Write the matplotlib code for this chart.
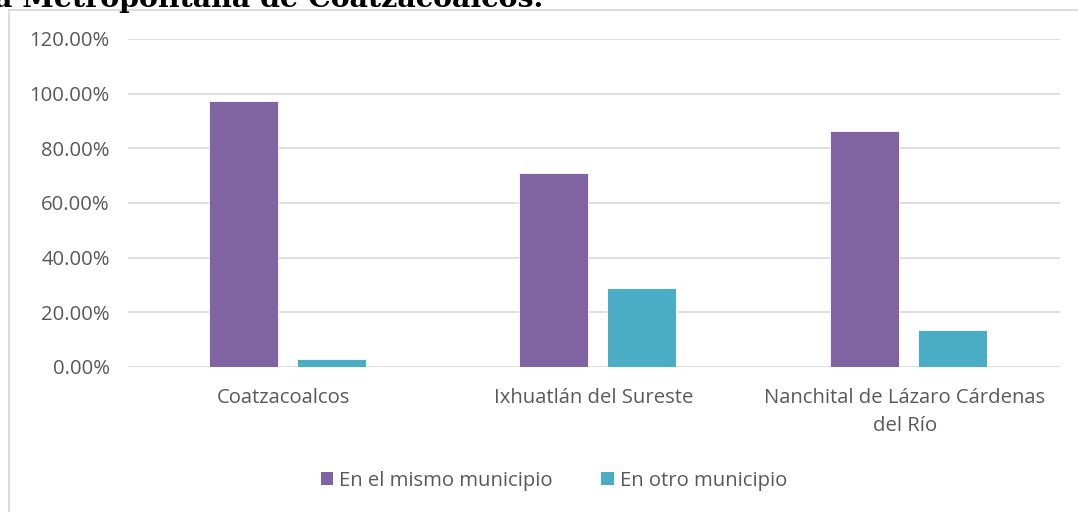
import matplotlib
matplotlib.use("Agg")
import matplotlib.pyplot as plt
import numpy as np
from matplotlib.lines import Line2D
from matplotlib.patches import Patch

categories = ["Coatzacoalcos", "Ixhuatlán del Sureste", "Nanchital de Lázaro Cárdenas\ndel Río"]
series_names = ["En el mismo municipio", "En otro municipio"]
mismo = [97.2, 71.1, 86.3]
otro = [2.8, 28.9, 13.7]
yticks = [0, 20, 40, 60, 80, 100, 120]
title_text = "a Metropolitana de Coatzacoalcos."

colors = ["#8064a2", "#4bacc6"]
txt = "#595959"
grid = "#d9d9d9"
font = "Open Sans"
fs = 14.6

W, H = 1078, 512
fig = plt.figure(figsize=(W / 100, H / 100), dpi=100)

# chart border (left and top)
fig.add_artist(Line2D([8.5 / W, 8.5 / W], [0, 1 - 10 / H], color=grid, lw=1.3))
fig.add_artist(Line2D([8.5 / W, 1], [1 - 10 / H, 1 - 10 / H], color=grid, lw=1.3))

# cut-off title
fig.text(-6 / W, 1 - 7 / H, title_text, fontsize=20.5, fontweight="bold",
         family="DejaVu Serif", color="black", ha="left", va="baseline")

ax = fig.add_axes([128 / W, 1 - 367 / H, (1060 - 128) / W, (367 - 39) / H])
x = np.arange(len(categories))
bw = 0.222
off = 0.1415
ax.bar(x - off + 0.012, mismo, width=bw, color=colors[0], edgecolor="white", linewidth=0.6, zorder=3)
ax.bar(x + off + 0.012, otro, width=bw, color=colors[1], edgecolor="white", linewidth=0.6, zorder=3)

ax.set_xlim(-0.5, 2.5)
ax.set_ylim(0, 120)
ax.set_yticks(yticks)
ax.set_yticklabels([f"{v:.2f}%" for v in yticks], family=font, fontsize=fs, color=txt)
ax.set_xticks(x)
ax.set_xticklabels(categories, family=font, fontsize=fs, color=txt, linespacing=1.55)
ax.tick_params(axis="both", length=0)
ax.tick_params(axis="y", pad=13)
ax.tick_params(axis="x", pad=15)
ax.grid(axis="y", color=grid, lw=1.2, zorder=0)
for s in ax.spines.values():
    s.set_visible(False)

handles = [Patch(facecolor=colors[0]), Patch(facecolor=colors[1])]
fig.legend(handles, series_names, loc="center", bbox_to_anchor=(554 / W, 1 - 481 / H),
           ncol=2, frameon=False, prop={"family": font, "size": fs},
           labelcolor=txt, handlelength=0.6, handleheight=0.6, handletextpad=0.3,
           columnspacing=2.4)

fig.savefig("out.png", dpi=100)
